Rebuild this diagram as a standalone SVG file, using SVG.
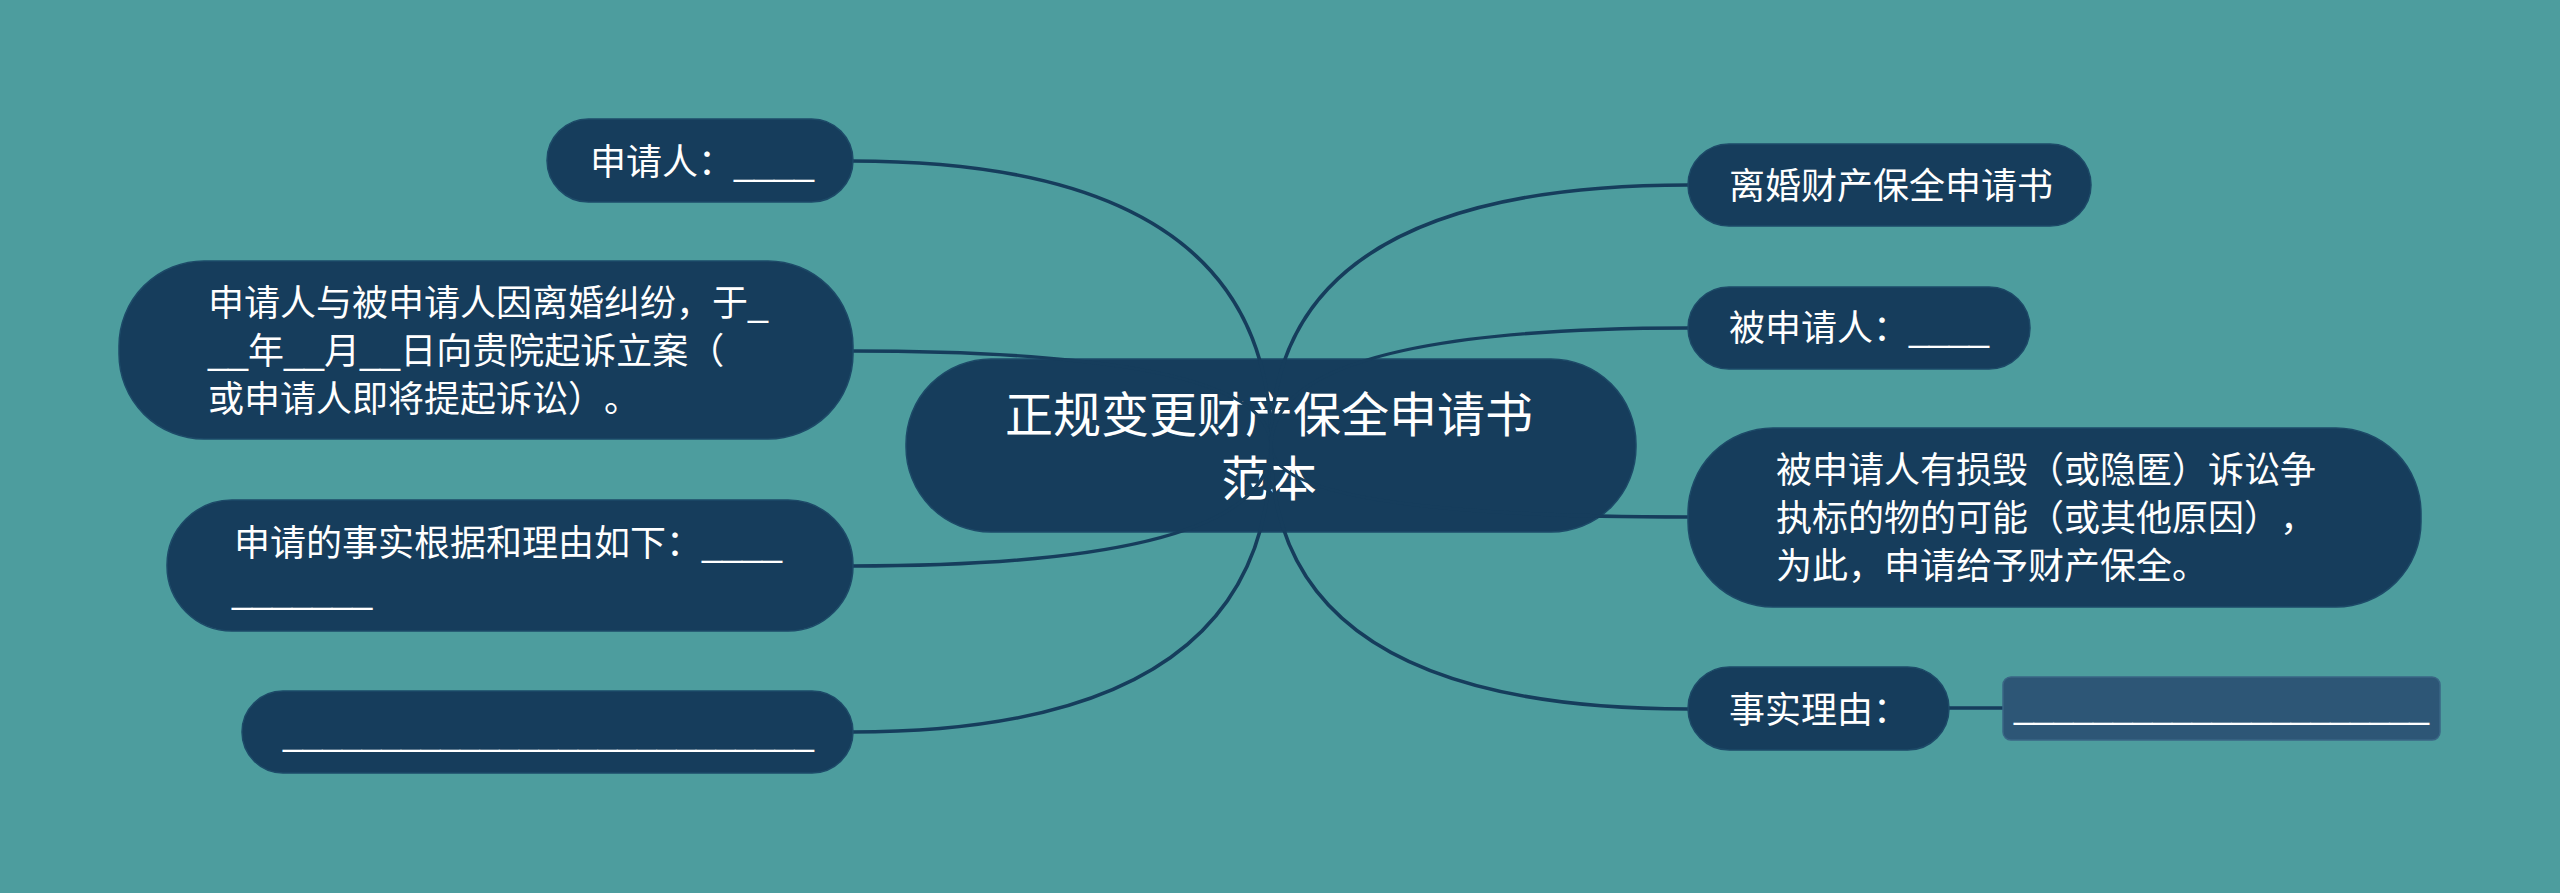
<svg xmlns="http://www.w3.org/2000/svg" width="2560" height="893" viewBox="0 0 2560 893">
<style>
.bg{fill:#4d9d9e}
.node{fill:#163d5c;stroke:#1d4a68;stroke-width:1.5}
.note{fill:#2d5676;stroke:#3a6585;stroke-width:1.5}
.t{font-family:"Liberation Sans","Noto Sans CJK SC",sans-serif;font-size:36px;fill:#ffffff;text-spacing-trim:space-all}
.tc{font-family:"Liberation Sans","Noto Sans CJK SC",sans-serif;font-size:48px;fill:#ffffff;text-anchor:middle}
.edge{fill:none;stroke:#163d5c;stroke-width:3.5}
</style>
<rect class="bg" x="0" y="0" width="2560" height="893"/>
<g id="root">
<rect class="node" x="906" y="359" width="730" height="173" rx="85" ry="85"/>
<text class="tc" x="1269" y="432">正规变更财产保全申请书</text>
<text class="tc" x="1269" y="496">范本</text>
</g>
<g id="connectors">
<path class="edge" d="M1271 446 Q1271 161 852 161"/>
<path class="edge" d="M1271 446 Q1271 351 852 351"/>
<path class="edge" d="M1271 446 Q1271 566 852 566"/>
<path class="edge" d="M1271 446 Q1271 732 852 732"/>
<path class="edge" d="M1271 446 Q1271 185 1688 185"/>
<path class="edge" d="M1271 446 Q1271 328 1688 328"/>
<path class="edge" d="M1271 446 Q1271 517 1688 517"/>
<path class="edge" d="M1271 446 Q1271 709 1688 709"/>
<path class="edge" d="M1948 708 L2003 708"/>
</g>
<g id="n-applicant">
<rect class="node" x="547" y="119" width="306" height="83" rx="41.5" ry="41.5"/>
<text class="t" x="590" y="175">申请人：____</text>
</g>
<g id="n-case">
<rect class="node" x="119" y="261" width="734" height="178" rx="85" ry="85"/>
<text class="t" x="208" y="316">申请人与被申请人因离婚纠纷，于_</text>
<text class="t" x="208" y="364">__年__月__日向贵院起诉立案（</text>
<text class="t" x="208" y="412">或申请人即将提起诉讼）。</text>
</g>
<g id="n-facts">
<rect class="node" x="167" y="500" width="686" height="131" rx="65" ry="65"/>
<text class="t" x="234" y="556">申请的事实根据和理由如下：____</text>
<text class="t" x="232" y="603">_______</text>
</g>
<g id="n-blank">
<rect class="node" x="242" y="691" width="611" height="82" rx="41" ry="41"/>
<text class="t" x="283" y="745" textLength="531" lengthAdjust="spacingAndGlyphs">___________________________</text>
</g>
<g id="n-title">
<rect class="node" x="1688" y="144" width="403" height="82" rx="41" ry="41"/>
<text class="t" x="1729" y="199">离婚财产保全申请书</text>
</g>
<g id="n-respondent">
<rect class="node" x="1688" y="287" width="342" height="82" rx="41" ry="41"/>
<text class="t" x="1729" y="341">被申请人：____</text>
</g>
<g id="n-risk">
<rect class="node" x="1688" y="428" width="733" height="179" rx="85" ry="85"/>
<text class="t" x="1776" y="483">被申请人有损毁（或隐匿）诉讼争</text>
<text class="t" x="1776" y="531">执标的物的可能（或其他原因），</text>
<text class="t" x="1776" y="579">为此，申请给予财产保全。</text>
</g>
<g id="n-reason">
<rect class="node" x="1688" y="667" width="261" height="83" rx="41.5" ry="41.5"/>
<text class="t" x="1729" y="723">事实理由：</text>
</g>
<g id="n-reason-value">
<rect class="note" x="2003" y="677" width="437" height="63" rx="8" ry="8"/>
<text class="t" x="2014" y="718" textLength="415" lengthAdjust="spacingAndGlyphs">_____________________</text>
</g>
</svg>
